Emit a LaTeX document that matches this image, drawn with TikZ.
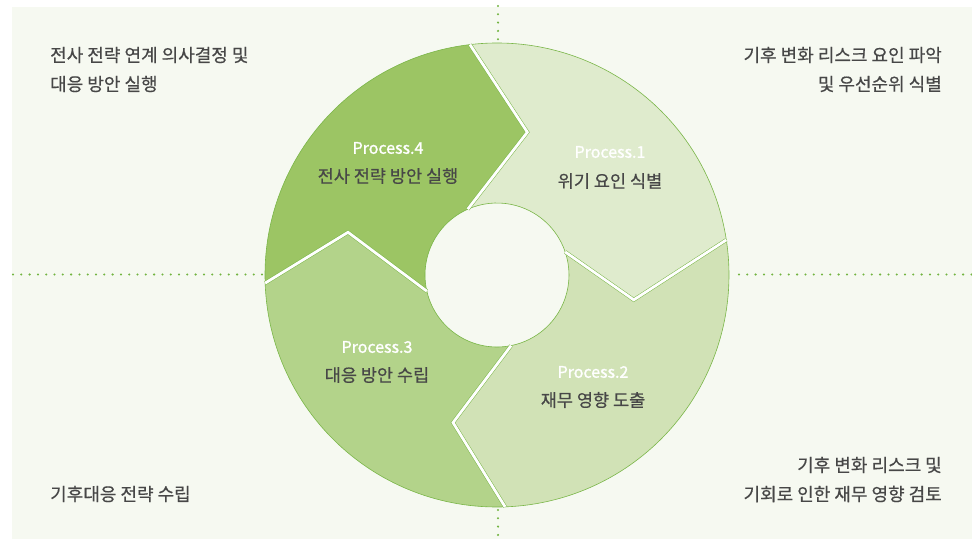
\documentclass[tikz,border=0pt]{standalone}
\usepackage{fontspec}
\setmainfont{Noto Sans CJK KR}
\newfontfamily\krmedium[FakeBold=1.3]{Noto Sans CJK KR}
\newfontfamily\krsemi[FakeBold=0.5]{Noto Sans CJK KR}
\usetikzlibrary{positioning}
\definecolor{bgpanel}{HTML}{F6F9F1}
\definecolor{ringline}{HTML}{7AB648}
\definecolor{guidedot}{HTML}{72B440}
\definecolor{stepone}{HTML}{DFEBCD}
\definecolor{steptwo}{HTML}{D1E2B6}
\definecolor{stepthree}{HTML}{B3D38A}
\definecolor{stepfour}{HTML}{9CC564}
\definecolor{labeltext}{HTML}{474747}
\tikzset{segment/.style={draw=ringline,line width=0.6pt}}
\tikzset{gapline/.style={draw=ringline,line width=0.5pt,double=white,
double distance=2.8pt,line join=miter}}
\tikzset{guide/.style={guidedot,line width=2.3pt,line cap=round,
dash pattern=on 0pt off 8.3pt}}
\tikzset{proclabel/.style={inner sep=0pt,text=white,font=\krmedium\fontsize{16}{18}\selectfont}}
\tikzset{steptext/.style={inner sep=0pt,text=labeltext,font=\krsemi\fontsize{17.5}{20}\selectfont}}
\tikzset{cornertext/.style={inner sep=0pt,text=labeltext,font=\krsemi\fontsize{18}{20}\selectfont}}

\begin{document}
\begin{tikzpicture}[x=1pt,y=1pt]
    \useasboundingbox (0,0) rectangle (972,539);
    \fill[bgpanel] (12,0) rectangle (972,532);

    % dotted guides
    \coordinate (guideL) at (13,264.5);
    \coordinate (guideLend) at (262,264.5);
    \coordinate (guideR) at (739,264.5);
    \coordinate (guideRend) at (972,264.5);
    \coordinate (guideT) at (498,533);
    \coordinate (guideTend) at (498,498);
    \coordinate (guideB) at (498,29);
    \coordinate (guideBend) at (498,0);
    \draw[guide] (guideL) -- (guideLend);
    \draw[guide] (guideR) -- (guideRend);
    \draw[guide] (guideT) -- (guideTend);
    \draw[guide] (guideB) -- (guideBend);

    \begin{scope}[shift={(497,264)}]
        \filldraw[segment,fill=stepone] (96.7:232) arc[start angle=96.7,end angle=8.7,radius=232]
            -- (-10.3:139) -- (18.7:72) arc[start angle=18.7,end angle=114,radius=72]
            -- (78:146) -- cycle;
        \filldraw[segment,fill=steptwo] (8.7:232) arc[start angle=8.7,end angle=-88,radius=232]
            -- (-106.6:154) -- (-78.7:72) arc[start angle=-78.7,end angle=18.7,radius=72]
            -- (-10.3:139) -- cycle;
        \filldraw[segment,fill=stepthree] (-88:232) arc[start angle=-88,end angle=-178,radius=232]
            -- (164:155) -- (-167:72) arc[start angle=-167,end angle=-78.7,radius=72]
            -- (-106.6:154) -- cycle;
        \filldraw[segment,fill=stepfour] (182:232) arc[start angle=182,end angle=96.7,radius=232]
            -- (78:146) -- (114:72) arc[start angle=114,end angle=193,radius=72]
            -- (164:155) -- cycle;

        % white gaps
        \draw[gapline] (96.7:232) -- (78:146) -- (114:72);
        \draw[gapline] (8.7:232) -- (-10.3:139) -- (18.7:72);
        \draw[gapline] (-88:232) -- (-106.6:154) -- (-78.7:72);
        \draw[gapline] (182:232) -- (164:155) -- (193:72);
    \end{scope}

    \node[proclabel] (procA) at (610,387) {Process.1};
    \node[steptext] (procAtxt) at (610,358) {위기 요인 식별};
    \node[proclabel] (procB) at (593,167) {Process.2};
    \node[steptext] (procBtxt) at (593,139) {재무 영향 도출};
    \node[proclabel] (procC) at (377,192) {Process.3};
    \node[steptext] (procCtxt) at (377,164) {대응 방안 수립};
    \node[proclabel] (procD) at (388,391) {Process.4};
    \node[steptext] (procDtxt) at (388,363) {전사 전략 방안 실행};

    \node[cornertext,anchor=west] (noteTL) at (50,484) {전사 전략 연계 의사결정 및};
    \node[cornertext,anchor=west] (noteTLb) at (50,455) {대응 방안 실행};
    \node[cornertext,anchor=east] (noteTR) at (942,484) {기후 변화 리스크 요인 파악};
    \node[cornertext,anchor=east] (noteTRb) at (942,455) {및 우선순위 식별};
    \node[cornertext,anchor=west] (noteBL) at (50,45) {기후대응 전략 수립};
    \node[cornertext,anchor=east] (noteBR) at (942,74) {기후 변화 리스크 및};
    \node[cornertext,anchor=east] (noteBRb) at (942,45) {기회로 인한 재무 영향 검토};
\end{tikzpicture}
\end{document}
